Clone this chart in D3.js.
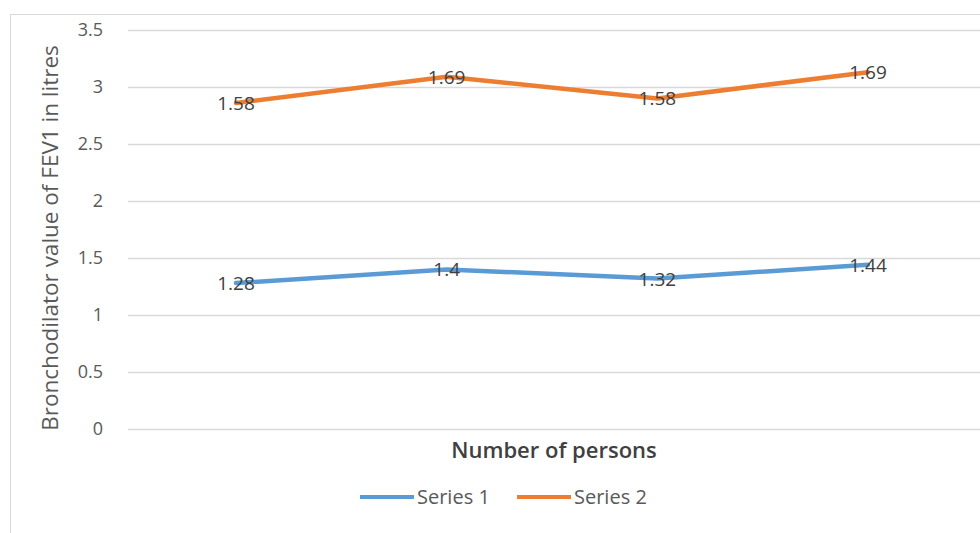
<!DOCTYPE html>
<html>
<head>
<meta charset="utf-8">
<script src="https://cdn.jsdelivr.net/npm/d3@7"></script>
<style>
  body { margin: 0; background: #fff; }
  text { font-family: "Open Sans", "Noto Sans", sans-serif; }
</style>
</head>
<body>
<svg id="chart"></svg>
<script>
const categories = ["1", "2", "3", "4"];
const series1 = [1.28, 1.4, 1.32, 1.44];
const series2 = [1.58, 1.69, 1.58, 1.69];
const seriesNames = ["Series 1", "Series 2"];
const yTicks = [0, 0.5, 1, 1.5, 2, 2.5, 3, 3.5];

const chartObj = { width: 980, height: 533 };
const colors = ["#5b9bd5", "#ed7d31"];

const svg = d3.select("#chart")
  .attr("width", chartObj.width)
  .attr("height", chartObj.height);

// outer chart frame (cropped at right and bottom)
svg.append("rect")
  .attr("x", 10.5)
  .attr("y", 14.5)
  .attr("width", 1000)
  .attr("height", 560)
  .attr("fill", "none")
  .attr("stroke", "#d9d9d9")
  .attr("stroke-width", 1);

const rows = categories.map((c, i) => ({ cat: c, s1: series1[i], s2: series2[i] }));
const stacked = d3.stack().keys(["s1", "s2"])(rows);

const x = d3.scalePoint().domain(categories).range([236, 868]);
const y = d3.scaleLinear().domain([0, 3.5]).range([429, 30]);

// gridlines
svg.append("g")
  .attr("transform", "translate(128,0)")
  .call(d3.axisLeft(y).tickValues(yTicks).tickSize(-860).tickFormat(""))
  .call(g => g.select(".domain").remove())
  .call(g => g.selectAll(".tick line").attr("stroke", "#d9d9d9").attr("stroke-width", 1.3));

// y tick labels
svg.append("g")
  .attr("transform", "translate(106,0)")
  .call(d3.axisLeft(y).tickValues(yTicks).tickSize(0).tickFormat(d3.format("")))
  .call(g => g.select(".domain").remove())
  .call(g => g.selectAll("text")
    .attr("fill", "#595959")
    .attr("font-size", 18));

// y axis title
svg.append("text")
  .attr("transform", "translate(58,238) rotate(-90)")
  .attr("text-anchor", "middle")
  .attr("fill", "#595959")
  .attr("font-size", 22.5)
  .text("Bronchodilator value of FEV1 in litres");

// x axis title
svg.append("text")
  .attr("x", 554)
  .attr("y", 458)
  .attr("text-anchor", "middle")
  .attr("fill", "#404040")
  .attr("font-size", 22)
  .attr("font-weight", 600)
  .text("Number of persons");

const line = d3.line()
  .x(d => x(d.data.cat))
  .y(d => y(d[1]));

stacked.forEach((layer, k) => {
  svg.append("path")
    .attr("d", line(layer))
    .attr("fill", "none")
    .attr("stroke", colors[k])
    .attr("stroke-width", 4.5)
    .attr("stroke-linejoin", "round")
    .attr("stroke-linecap", "round");
});

const raw = [series1, series2];
stacked.forEach((layer, k) => {
  svg.append("g")
    .selectAll("text")
    .data(layer)
    .join("text")
    .attr("x", d => x(d.data.cat))
    .attr("y", d => y(d[1]) + 7)
    .attr("text-anchor", "middle")
    .attr("fill", "#404040")
    .attr("font-size", 19)
    .text((d, i) => raw[k][i]);
});

// legend
const legend = svg.append("g").attr("transform", "translate(360,497)");
const legendX = [0, 157];
seriesNames.forEach((name, k) => {
  const g = legend.append("g").attr("transform", `translate(${legendX[k]},0)`);
  g.append("line")
    .attr("x1", 0).attr("x2", 54)
    .attr("y1", 0).attr("y2", 0)
    .attr("stroke", colors[k])
    .attr("stroke-width", 4);
  g.append("text")
    .attr("x", 57)
    .attr("y", 7)
    .attr("fill", "#595959")
    .attr("font-size", 20)
    .text(name);
});
</script>
</body>
</html>
